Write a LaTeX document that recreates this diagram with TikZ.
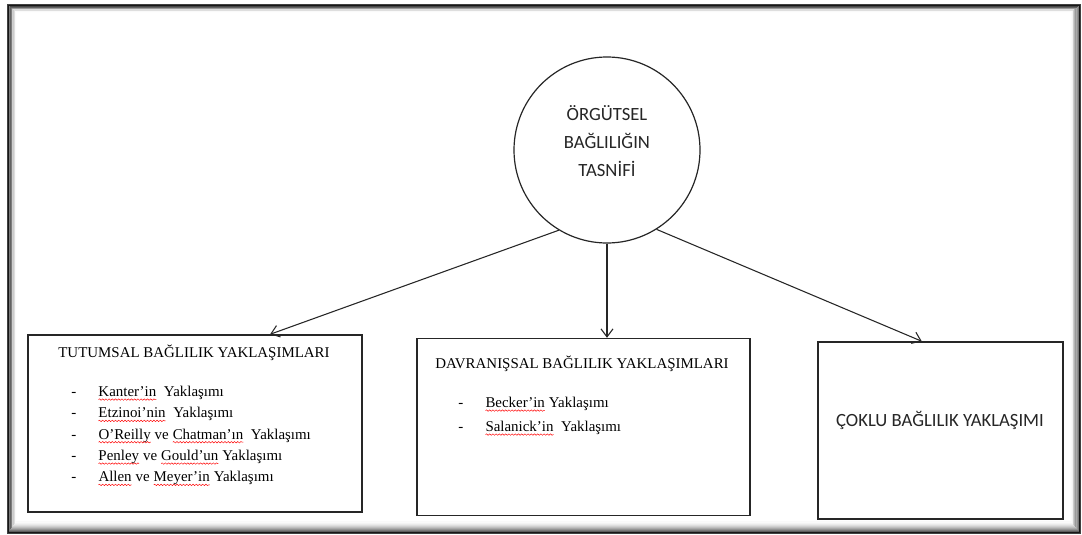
\documentclass[tikz,border=0pt]{standalone}
\usepackage{fontspec}
\setmainfont{Liberation Serif}
\newfontfamily\calib{Carlito}
\usetikzlibrary{arrows.meta,calc,decorations.pathmorphing}
% red wavy underline, as a spell checker marks a word
\newcommand\spell[1]{\tikz[baseline=(w.base),x=1pt,y=1pt]{%
  \node[anchor=base,inner sep=0pt,outer sep=0pt,draw=none,fill=none,text=black,minimum size=0pt,shape=rectangle] (w) at (0,0) {#1};
  \draw[red,line width=0.35pt,decorate,decoration={snake,amplitude=0.55pt,segment length=2.4pt}]
    ([yshift=-2.2pt]w.base west) -- ([yshift=-2.2pt]w.base east);}}
\newcommand\itm[1]{\makebox[20.25pt][l]{-}#1}
\begin{document}
\begin{tikzpicture}[x=0.75pt,y=-0.75pt,
  box/.style={draw=black!85,line width=1.1pt,rectangle,inner sep=0pt},
  arr/.style={-{Straight Barb[length=6pt,width=9pt]},line width=0.8pt,black!85},
  serif/.style={font=\fontsize{11.2}{16}\selectfont,inner sep=0pt},
  sans/.style={font=\calib\fontsize{14}{21}\selectfont,inner sep=0pt,text=black!85}]
\useasboundingbox (0,0) rectangle (1082,535);
\fill[white] (0,0) rectangle (1082,535);

% framed page with a soft inner shadow
\foreach \i in {0,...,11}{
  \pgfmathsetmacro\op{0.75*(1-\i/12)^2}
  \draw[black,opacity=\op,line width=0.9pt]
    (8+\i*0.75,5+\i*0.65) rectangle (1080-\i*0.85,533-\i*1.1);
}

% top node
\node[circle,draw=black!85,line width=0.9pt,minimum size=139.5pt,inner sep=0pt] (c) at (607,150) {};
\node[sans,align=center] (ct) at (607,141) {ÖRGÜTSEL\\BAĞLILIĞIN\\TASNİFİ};

% three classes
\node[box,minimum width=250.5pt,minimum height=132.75pt] (L) at (195,423.5) {};
\node[box,minimum width=249.75pt,minimum height=132.75pt] (M) at (583.5,427) {};
\node[box,minimum width=183.75pt,minimum height=132.75pt] (R) at (940.5,430.5) {};

\node[serif,anchor=base] (lt) at (194,357) {TUTUMSAL BAĞLILIK YAKLAŞIMLARI};
\node[serif,anchor=north west,align=left] (ll) at (71,386) {%
  \itm{\spell{Kanter’in}\ \ Yaklaşımı}\\
  \itm{\spell{Etzinoi’nin}\ \ Yaklaşımı}\\
  \itm{\spell{O’Reilly} ve \spell{Chatman’ın}\ \ Yaklaşımı}\\
  \itm{\spell{Penley} ve \spell{Gould’un} Yaklaşımı}\\
  \itm{\spell{Allen} ve \spell{Meyer’in} Yaklaşımı}};

\node[serif,anchor=base] (mt) at (582,368) {DAVRANIŞSAL BAĞLILIK YAKLAŞIMLARI};
\node[serif,anchor=north west,align=left,font=\fontsize{11.2}{18}\selectfont] (ml) at (458,397) {%
  \itm{\spell{Becker’in} Yaklaşımı}\\
  \itm{\spell{Salanick’in}\ \ Yaklaşımı}};

\node[sans] (rt) at (940,420) {ÇOKLU BAĞLILIK YAKLAŞIMI};

% connectors
\draw[arr] (c.239.6) -- ($(L.north west)!0.724!(L.north east)$);
\draw[arr] (c.south) -- (c.south |- M.north);
\draw[arr] (c.302.5) -- ($(R.north west)!0.424!(R.north east)$);
\end{tikzpicture}
\end{document}
